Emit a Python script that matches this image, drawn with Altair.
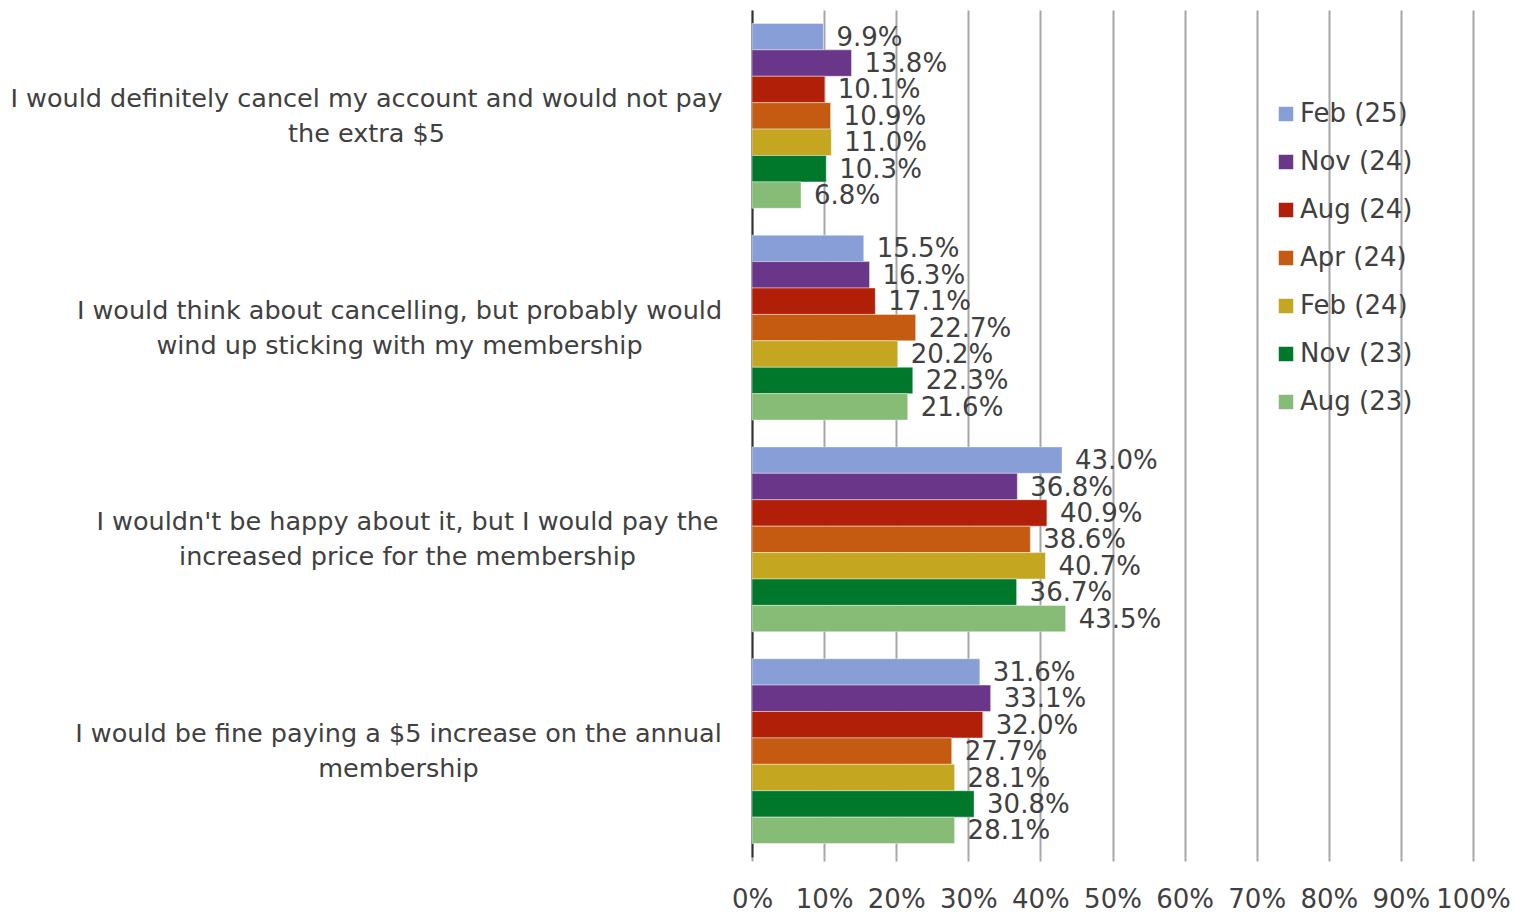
import altair as alt
import pandas as pd

categories = [
    "I would definitely cancel my account and would not pay\nthe extra $5",
    "I would think about cancelling, but probably would\nwind up sticking with my membership",
    "I wouldn't be happy about it, but I would pay the\nincreased price for the membership",
    "I would be fine paying a $5 increase on the annual\nmembership",
]
series = ["Feb (25)", "Nov (24)", "Aug (24)", "Apr (24)", "Feb (24)", "Nov (23)", "Aug (23)"]
colors = ["#879ED6", "#6A3689", "#B11F08", "#C55B11", "#C4A621", "#00782B", "#87BC77"]

feb25 = [9.9, 15.5, 43.0, 31.6]
nov24 = [13.8, 16.3, 36.8, 33.1]
aug24 = [10.1, 17.1, 40.9, 32.0]
apr24 = [10.9, 22.7, 38.6, 27.7]
feb24 = [11.0, 20.2, 40.7, 28.1]
nov23 = [10.3, 22.3, 36.7, 30.8]
aug23 = [6.8, 21.6, 43.5, 28.1]

values = [feb25, nov24, aug24, apr24, feb24, nov23, aug23]
rows = []
for s, vals in zip(series, values):
    for c, v in zip(categories, vals):
        rows.append({"category": c, "series": s, "value": v})
df = pd.DataFrame(rows)

FONT = "DejaVu Sans"
TXT = "#404040"

# each label block is right-aligned next to the axis, its lines centred
label_padding = {
    "condition": [
        {"test": "indexof(datum.value, 'think about') >= 0", "value": 353},
        {"test": "indexof(datum.value, 'happy about') >= 0", "value": 345},
        {"test": "indexof(datum.value, 'fine paying') >= 0", "value": 354},
    ],
    "value": 386,
}

y_enc = alt.Y(
    "category:N",
    sort=categories,
    scale=alt.Scale(paddingInner=0.127, paddingOuter=0.0635),
    axis=alt.Axis(
        title=None,
        labelExpr="split(datum.label, '\\n')",
        labelAlign="center",
        labelBaseline="middle",
        labelPadding=label_padding,
        labelOffset=-17,
        labelLineHeight=35,
        labelFontSize=25.5,
        labelFont=FONT,
        labelColor=TXT,
        labelLimit=0,
        ticks=False,
        domainColor="#333333",
        domainWidth=2,
        grid=False,
    ),
)
yoff = alt.YOffset("series:N", sort=series, scale=alt.Scale(paddingInner=0, paddingOuter=0))
x_enc = alt.X(
    "value:Q",
    scale=alt.Scale(domain=[0, 100], nice=False),
    axis=alt.Axis(
        title=None,
        values=list(range(0, 101, 10)),
        labelExpr="datum.value + '%'",
        labelFontSize=26,
        labelFont=FONT,
        labelColor=TXT,
        labelPadding=25,
        grid=True,
        gridColor="#A6A6A6",
        gridWidth=2,
        domain=False,
        ticks=True,
        tickSize=4,
        tickColor="#A6A6A6",
        tickWidth=2,
        labelFlush=False,
    ),
)

bars = alt.Chart(df).mark_bar(stroke="white", strokeWidth=0.6, strokeOpacity=0.7).encode(
    x=x_enc,
    y=y_enc,
    yOffset=yoff,
    color=alt.Color(
        "series:N",
        sort=series,
        scale=alt.Scale(domain=series, range=colors),
        legend=alt.Legend(
            title=None,
            orient="none",
            legendX=521,
            legendY=91,
            symbolType="square",
            symbolSize=210,
            symbolStrokeWidth=0,
            labelFontSize=26,
            labelFont=FONT,
            labelColor=TXT,
            labelOffset=1,
            rowPadding=22,
            padding=0,
        ),
    ),
)

labels = alt.Chart(df).transform_calculate(
    lbl="format(datum.value, '.1f') + '%'"
).mark_text(align="left", baseline="middle", dx=13, dy=1, fontSize=26, font=FONT, color=TXT).encode(
    x="value:Q",
    y=alt.Y("category:N", sort=categories),
    yOffset=alt.YOffset("series:N", sort=series),
    text="lbl:N",
)

chart = (
    alt.layer(bars, labels)
    .properties(
        width=721,
        height=847,
        autosize=alt.AutoSizeParams(type="none"),
        padding={"left": 744, "top": 2, "right": 40, "bottom": 57},
    )
    .configure_view(stroke=None)
)

chart.save("out.html", embed_options={"renderer": "svg", "actions": False})
